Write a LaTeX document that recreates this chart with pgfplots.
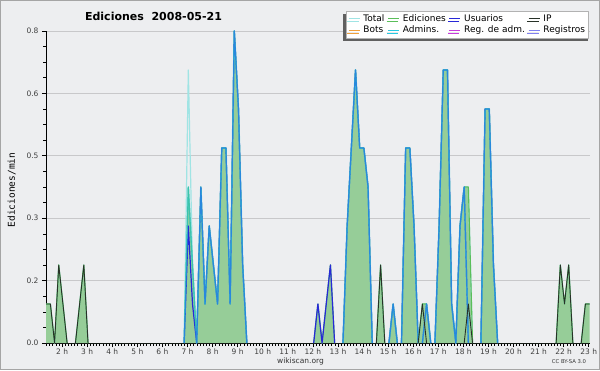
\documentclass[border=0pt]{standalone}
\usepackage{pgfplots}
\pgfplotsset{compat=1.18}
\usepackage{fontspec}
\setmainfont{DejaVu Sans}
\setmonofont{DejaVu Sans Mono}
\usetikzlibrary{shadows}
\definecolor{bg}{RGB}{237,238,240}
\definecolor{frame}{RGB}{165,165,165}
\definecolor{gridc}{RGB}{200,200,202}
\definecolor{cTotal}{RGB}{160,228,228}
\definecolor{cEdl}{RGB}{90,190,90}
\definecolor{cEdf}{RGB}{150,205,152}
\definecolor{cUs}{RGB}{40,40,215}
\definecolor{cIP}{RGB}{40,50,40}
\definecolor{cBots}{RGB}{240,160,60}
\definecolor{cAdm}{RGB}{40,200,225}
\definecolor{cReg}{RGB}{200,60,220}
\definecolor{cRegs}{RGB}{128,128,240}
\begin{document}
\begin{tikzpicture}
\path[use as bounding box] (0,0) rectangle (600pt,370pt);
\fill[bg] (0,0) rectangle (600pt,370pt);
\draw[frame, line width=1pt] (0.5pt,0.5pt) rectangle (599.5pt,369.5pt);
\begin{axis}[
  at={(46pt,27pt)}, anchor=south west, scale only axis,
  width=544pt, height=312pt,
  xmin=81.5, xmax=1383, ymin=0, ymax=0.8,
  axis lines=left, axis line style={-, black, line width=0.8pt},
  tick align=outside,
  xtick={120,180,...,1380},
  xticklabels={2 h,3 h,4 h,5 h,6 h,7 h,8 h,9 h,10 h,11 h,12 h,13 h,14 h,15 h,16 h,17 h,18 h,19 h,20 h,21 h,22 h,23 h},
  minor xtick={82.5,90,...,1380},
  ytick={0,0.16,0.32,0.48,0.64,0.8},
  yticklabels={0.0,0.2,0.3,0.5,0.6,0.8},
  minor y tick num=3,
  major tick length=4pt, minor tick length=2.5pt,
  tick style={black, line width=0.6pt},
  ymajorgrids, grid style={gridc, line width=0.8pt},
  tick label style={font=\fontsize{7.5}{8}\selectfont, text=black!75},
  xticklabel style={yshift=1.5pt},
  clip=false, unbounded coords=jump,
  line join=round,
  legend columns=4,
  legend cell align=left,
  legend style={at={(0.5515,1.064)}, anchor=north west, fill=white, draw=gray!60, line width=0.4pt,
    font=\fontsize{9}{9.5}\selectfont, inner xsep=2pt, inner ysep=2.5pt, column sep=2.5pt, row sep=1pt,
    nodes={inner sep=0.8pt, text height=6.8pt, text depth=2pt},
    drop shadow={shadow xshift=-1.2pt, shadow yshift=-2.5pt, shadow scale=1.016, fill=gray!75!black, opacity=1}},
  legend image code/.code={\draw[#1, line width=0.9pt] (0pt,0pt) -- (11pt,0pt);},
]
\addlegendimage{cTotal}\addlegendentry{Total}
\addlegendimage{cEdl}\addlegendentry{Ediciones}
\addlegendimage{cUs}\addlegendentry{Usuarios}
\addlegendimage{cIP}\addlegendentry{IP}
\addlegendimage{cBots}\addlegendentry{Bots}
\addlegendimage{cAdm}\addlegendentry{Admins.}
\addlegendimage{cReg}\addlegendentry{Reg. de adm.}
\addlegendimage{cRegs}\addlegendentry{Registros}

% Ediciones area
\addplot[draw=none, fill=cEdf, forget plot] coordinates {
(82,0.1)(92,0.1)(102,0)(112,0.2)(122,0.1)(132,0)(152,0)(162,0.1)(172,0.2)(182,0)
(412,0)(422,0.4)(432,0.2)(442,0)(452,0.4)(462,0.1)(472,0.3)(482,0.2)(492,0.1)(502,0.5)(512,0.5)(522,0.1)(532,0.8)(542,0.6)(552,0.2)(562,0)
(722,0)(732,0.1)(742,0)(752,0.1)(762,0.2)(772,0)(792,0)(802,0.3)(812,0.5)(822,0.7)(832,0.5)(842,0.5)(852,0.4)(862,0)
(872,0)(882,0.2)(892,0)(902,0)(912,0.1)(922,0)(932,0)(942,0.5)(952,0.5)(962,0.3)(972,0)(982,0.1)(992,0.1)(1002,0)
(1012,0)(1022,0.3)(1032,0.7)(1042,0.7)(1052,0.1)(1062,0)(1072,0.3)(1082,0.4)(1092,0.4)(1102,0)
(1122,0)(1132,0.6)(1142,0.6)(1152,0.2)(1162,0)(1302,0)(1312,0.2)(1322,0.1)(1332,0.2)(1342,0)(1362,0)(1372,0.1)(1382,0.1)
} \closedcycle;

% Total
\addplot[cTotal, line width=1.2pt, forget plot] coordinates {
(82,0.1)(92,0.1)(102,0)(112,0.2)(122,0.1)(132,0)(142,nan)
(152,0)(162,0.1)(172,0.2)(182,0)(300,nan)
(412,0)(422,0.7)(432,0.2)(442,0)(452,0.4)(462,0.1)(472,0.3)(482,0.2)(492,0.1)(502,0.5)(512,0.5)(522,0.1)(532,0.8)(542,0.6)(552,0.2)(562,0)(600,nan)
(722,0)(732,0.1)(742,0)(752,0.1)(762,0.2)(772,0)(782,nan)
(792,0)(802,0.3)(812,0.5)(822,0.7)(832,0.5)(842,0.5)(852,0.4)(862,0)(867,nan)
(872,0)(882,0.2)(892,0)(897,nan)
(902,0)(912,0.1)(922,0)(927,nan)
(932,0)(942,0.5)(952,0.5)(962,0.3)(972,0)(982,0.1)(992,0.1)(1002,0)(1007,nan)
(1012,0)(1022,0.3)(1032,0.7)(1042,0.7)(1052,0.1)(1062,0)(1072,0.3)(1082,0.4)(1092,0.4)(1102,0)(1110,nan)
(1122,0)(1132,0.6)(1142,0.6)(1152,0.2)(1162,0)(1200,nan)
(1302,0)(1312,0.2)(1322,0.1)(1332,0.2)(1342,0)(1350,nan)
(1362,0)(1372,0.1)(1382,0.1)
};

% Ediciones line
\addplot[cEdl, line width=1.1pt, forget plot] coordinates {
(82,0.1)(92,0.1)(102,0)(112,0.2)(122,0.1)(132,0)(142,nan)
(152,0)(162,0.1)(172,0.2)(182,0)(300,nan)
(412,0)(422,0.4)(432,0.2)(442,0)(452,0.4)(462,0.1)(472,0.3)(482,0.2)(492,0.1)(502,0.5)(512,0.5)(522,0.1)(532,0.8)(542,0.6)(552,0.2)(562,0)(600,nan)
(722,0)(732,0.1)(742,0)(752,0.1)(762,0.2)(772,0)(782,nan)
(792,0)(802,0.3)(812,0.5)(822,0.7)(832,0.5)(842,0.5)(852,0.4)(862,0)(867,nan)
(872,0)(882,0.2)(892,0)(897,nan)
(902,0)(912,0.1)(922,0)(927,nan)
(932,0)(942,0.5)(952,0.5)(962,0.3)(972,0)(982,0.1)(992,0.1)(1002,0)(1007,nan)
(1012,0)(1022,0.3)(1032,0.7)(1042,0.7)(1052,0.1)(1062,0)(1072,0.3)(1082,0.4)(1092,0.4)(1102,0)(1110,nan)
(1122,0)(1132,0.6)(1142,0.6)(1152,0.2)(1162,0)(1200,nan)
(1302,0)(1312,0.2)(1322,0.1)(1332,0.2)(1342,0)(1350,nan)
(1362,0)(1372,0.1)(1382,0.1)
};

% Usuarios
\addplot[cUs, line width=1.2pt, forget plot] coordinates {
(412,0)(422,0.3)(432,0.1)(442,0)(452,0.4)(462,0.1)(472,0.3)(482,0.2)(492,0.1)(502,0.5)(512,0.5)(522,0.1)(532,0.8)(542,0.6)(552,0.2)(562,0)(600,nan)
(722,0)(732,0.1)(742,0)(752,0.1)(762,0.2)(772,0)(782,nan)
(792,0)(802,0.3)(812,0.5)(822,0.7)(832,0.5)(842,0.5)(852,0.4)(862,0)(867,nan)
(902,0)(912,0.1)(922,0)(927,nan)
(932,0)(942,0.5)(952,0.5)(962,0.3)(972,0)(977,nan)
(982,0)(992,0.1)(1002,0)(1007,nan)
(1012,0)(1022,0.3)(1032,0.7)(1042,0.7)(1052,0.1)(1062,0)(1072,0.3)(1082,0.4)(1092,0)(1110,nan)
(1122,0)(1132,0.6)(1142,0.6)(1152,0.2)(1162,0)
};

% Admins
\addplot[cAdm, line width=1.6pt, opacity=0.6, forget plot] coordinates {
(412,0)(422,0.4)(432,0.2)(442,0)(452,0.4)(462,0.1)(472,0.3)(482,0.2)(492,0.1)(502,0.5)(512,0.5)(522,0.1)(532,0.8)(542,0.6)(552,0.2)(562,0)(600,nan)
(792,0)(802,0.3)(812,0.5)(822,0.7)(832,0.5)(842,0.5)(852,0.4)(862,0)(867,nan)
(902,0)(912,0.1)(922,0)(927,nan)
(932,0)(942,0.5)(952,0.5)(962,0.3)(972,0)(977,nan)
(982,0)(992,0.1)(1002,0)(1007,nan)
(1012,0)(1022,0.3)(1032,0.7)(1042,0.7)(1052,0.1)(1062,0)(1072,0.3)(1082,0.4)(1092,0)(1110,nan)
(1122,0)(1132,0.6)(1142,0.6)(1152,0.2)(1162,0)
};

% IP
\addplot[cIP, line width=0.9pt, forget plot] coordinates {
(82,0.1)(92,0.1)(102,0)(112,0.2)(122,0.1)(132,0)(142,nan)
(152,0)(162,0.1)(172,0.2)(182,0)(300,nan)
(872,0)(882,0.2)(892,0)(897,nan)
(972,0)(982,0.1)(992,0)(997,nan)
(1082,0)(1092,0.1)(1102,0)(1110,nan)
(1302,0)(1312,0.2)(1322,0.1)(1332,0.2)(1342,0)(1350,nan)
(1362,0)(1372,0.1)(1382,0.1)
};
\end{axis}
\node[font=\fontsize{11}{13}\bfseries\selectfont, anchor=base] at (153.5pt,349.3pt) {Ediciones~~2008-05-21};
\node[rotate=90, font=\ttfamily\fontsize{9.5}{11}\selectfont] at (11.7pt,180pt) {Ediciones/min};
\node[font=\fontsize{7.5}{9}\selectfont, text=black!80] at (300.5pt,9pt) {wikiscan.org};
\node[font=\fontsize{5.3}{6}\selectfont, text=black!80] at (569pt,8pt) {CC BY-SA 3.0};
\end{tikzpicture}
\end{document}
